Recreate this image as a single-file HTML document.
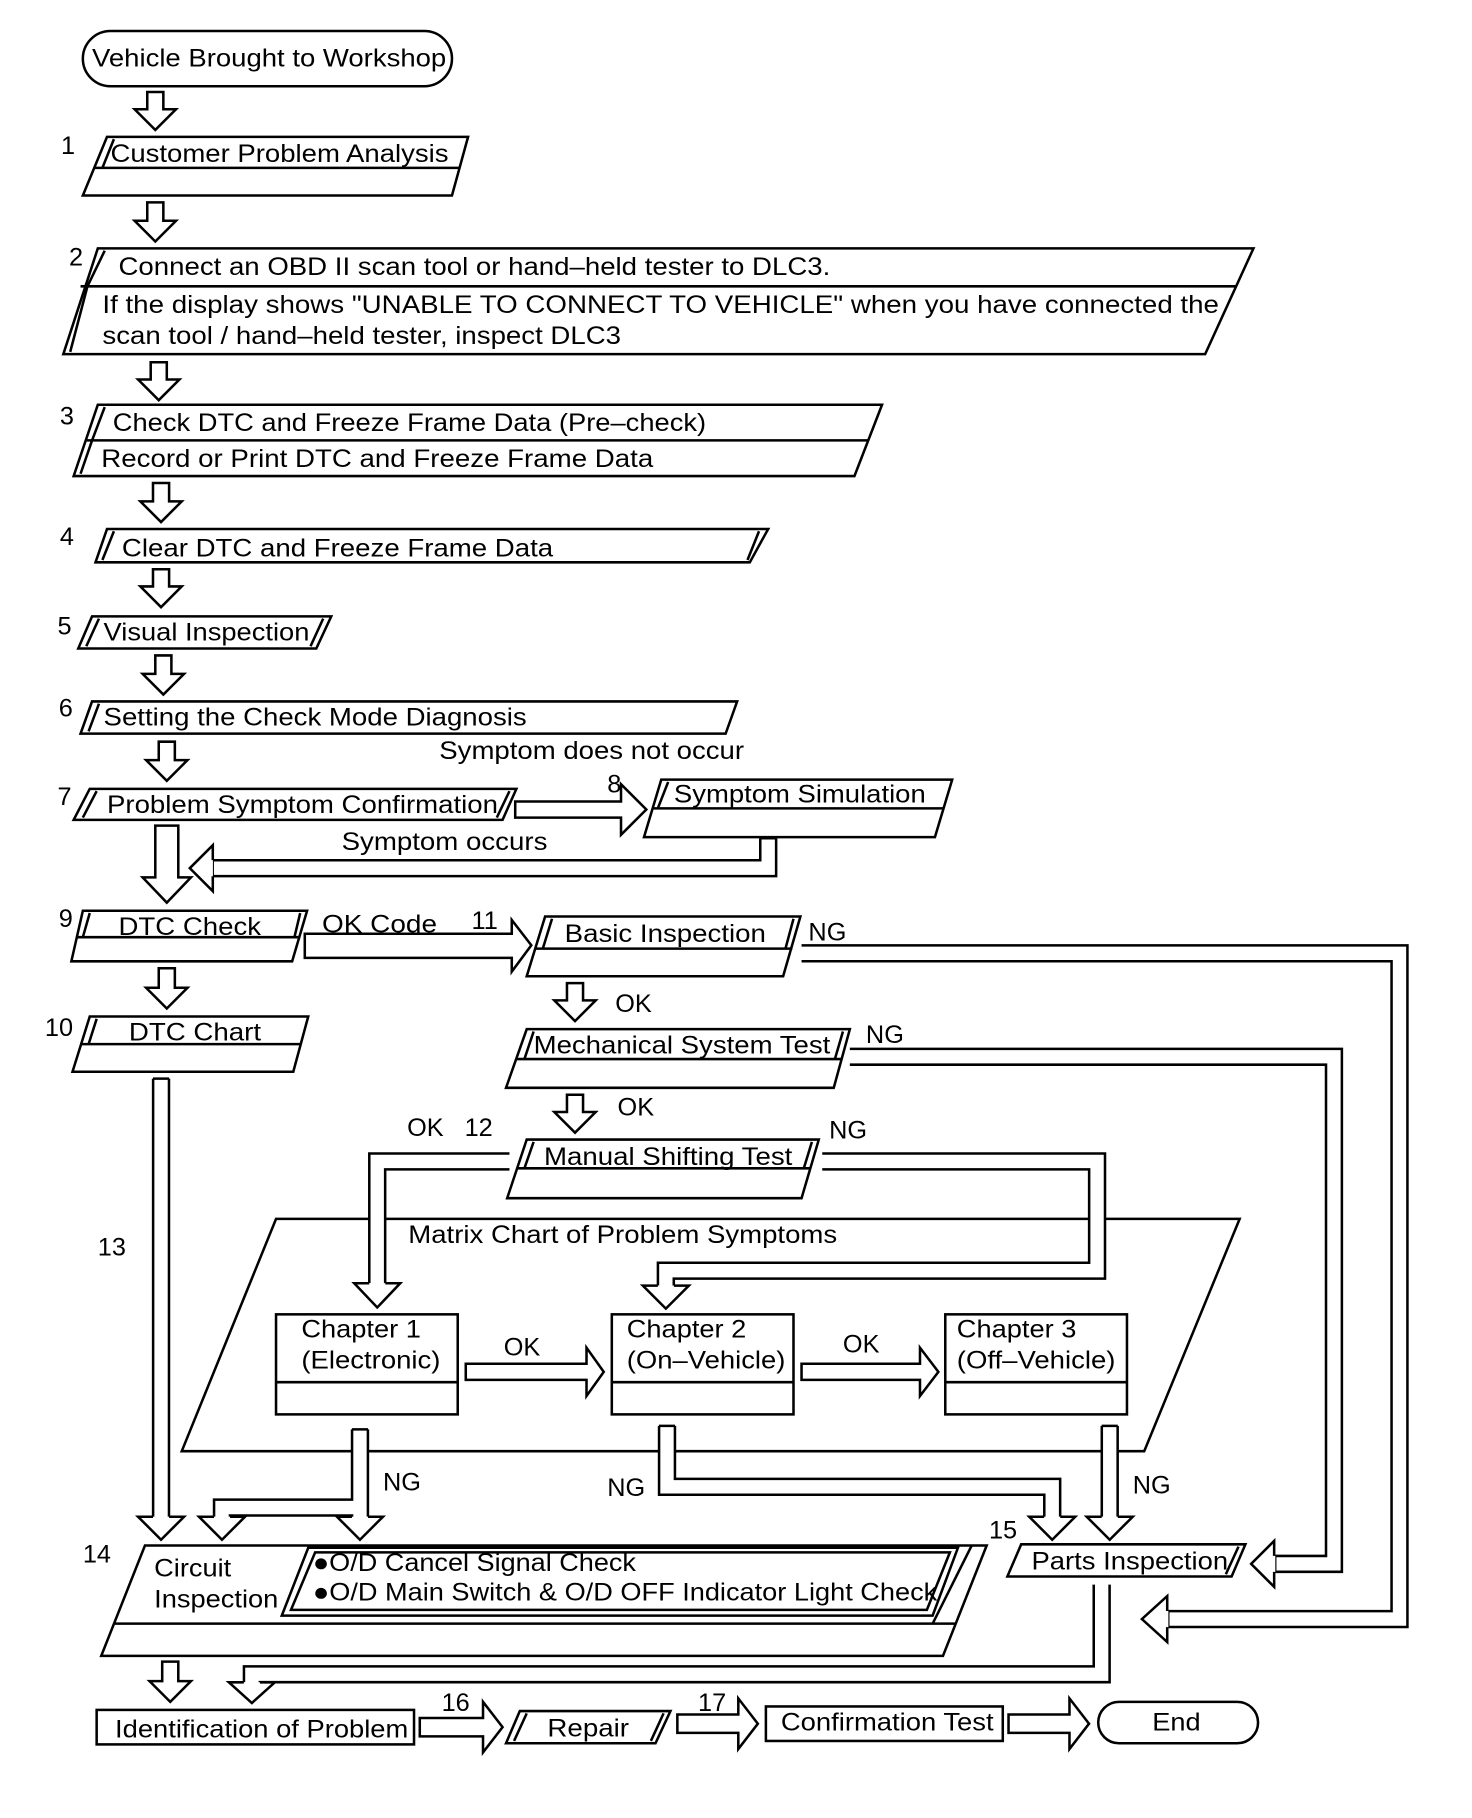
<!DOCTYPE html>
<html><head><meta charset="utf-8"><style>
html,body{margin:0;padding:0;background:#fff;}
svg{display:block;}
text{font-family:"Liberation Sans",Arial,sans-serif;font-size:22px;fill:#000;}
.b{fill:#fff;stroke:#000;stroke-width:2.2;}
.l{fill:none;stroke:#000;stroke-width:2.2;}
.po{fill:none;stroke:#000;stroke-width:16;stroke-linejoin:miter;}
.pi{fill:none;stroke:#fff;stroke-width:11.6;stroke-linejoin:miter;}
.hf{fill:#fff;stroke:none;}
</style></head><body>
<svg width="1472" height="1818" viewBox="0 0 1280 1581" xmlns="http://www.w3.org/2000/svg">
<rect x="0" y="0" width="1280" height="1581" fill="#fff"/>

<rect class="b" x="72" y="27" width="321" height="48" rx="24"/>
<text x="80" y="58" textLength="308" lengthAdjust="spacingAndGlyphs">Vehicle Brought to Workshop</text>

<g class="b">
<polygon points="128,80 142,80 142,95 153,95 135,113 117,95 128,95"/>
<polygon points="128,176 142,176 142,192 153,192 135,210 117,192 128,192"/>
<polygon points="131,315 145,315 145,330 156,330 138,348 120,330 131,330"/>
<polygon points="133,420 147,420 147,436 158,436 140,454 122,436 133,436"/>
<polygon points="133,495 147,495 147,510 158,510 140,528 122,510 133,510"/>
<polygon points="135,570 149,570 149,586 160,586 142,604 124,586 135,586"/>
<polygon points="138,645 152,645 152,661 163,661 145,679 127,661 138,661"/>
<polygon points="135,718 155,718 155,763 166,763 145,785 124,763 135,763"/>
<polygon points="138,842 152,842 152,859 163,859 145,877 127,859 138,859"/>
<polygon points="493,855 507,855 507,870 518,870 500,888 482,870 493,870"/>
<polygon points="493,952 507,952 507,967 518,967 500,985 482,967 493,967"/>
<polygon points="141,1445 155,1445 155,1462 166,1462 148,1480 130,1462 141,1462"/>
<polygon points="448,697 540,697 540,682 562,704 540,726 540,711 448,711"/>
<polygon points="265,812 445,812 445,800 462,822 445,845 445,833 265,833"/>
<polygon points="365,1494 420,1494 420,1480 437,1502 420,1524 420,1510 365,1510"/>
<polygon points="589,1491 642,1491 642,1477 659,1499 642,1521 642,1507 589,1507"/>
<polygon points="877,1491 930,1491 930,1477 947,1499 930,1521 930,1507 877,1507"/>
</g>

<text x="53" y="134">1</text>
<polygon class="b" points="93,119 407,119 393,170 72,170"/>
<line class="l" x1="82" y1="146" x2="400" y2="146"/>
<line class="l" x1="99" y1="121" x2="89" y2="146"/>
<text x="96" y="141" textLength="294" lengthAdjust="spacingAndGlyphs">Customer Problem Analysis</text>

<text x="60" y="231">2</text>
<polygon class="b" points="85,216 1090,216 1048,308 55,308"/>
<line class="l" x1="70" y1="249" x2="1075" y2="249"/>
<line class="l" x1="91" y1="218" x2="76" y2="249"/>
<line class="l" x1="76" y1="249" x2="61" y2="306"/>
<text x="103" y="239" textLength="619" lengthAdjust="spacingAndGlyphs">Connect an OBD II scan tool or hand–held tester to DLC3.</text>
<text x="89" y="272" textLength="971" lengthAdjust="spacingAndGlyphs">If the display shows "UNABLE TO CONNECT TO VEHICLE" when you have connected the</text>
<text x="89" y="299" textLength="451" lengthAdjust="spacingAndGlyphs">scan tool / hand–held tester, inspect DLC3</text>

<text x="52" y="369">3</text>
<polygon class="b" points="85,352 767,352 743,414 64,414"/>
<line class="l" x1="74" y1="383" x2="755" y2="383"/>
<line class="l" x1="91" y1="354" x2="80" y2="383"/>
<line class="l" x1="80" y1="383" x2="70" y2="412"/>
<text x="98" y="375" textLength="516" lengthAdjust="spacingAndGlyphs">Check DTC and Freeze Frame Data (Pre–check)</text>
<text x="88" y="406" textLength="480" lengthAdjust="spacingAndGlyphs">Record or Print DTC and Freeze Frame Data</text>

<text x="52" y="474">4</text>
<polygon class="b" points="93,460 668,460 652,489 83,489"/>
<line class="l" x1="99" y1="462" x2="89" y2="487"/>
<line class="l" x1="660" y1="462" x2="650" y2="487"/>
<text x="106" y="484" textLength="375" lengthAdjust="spacingAndGlyphs">Clear DTC and Freeze Frame Data</text>

<text x="50" y="552">5</text>
<polygon class="b" points="80,536 288,536 275,564 68,564"/>
<line class="l" x1="86" y1="538" x2="75" y2="562"/>
<line class="l" x1="281" y1="538" x2="270" y2="562"/>
<text x="90" y="557" textLength="179" lengthAdjust="spacingAndGlyphs">Visual Inspection</text>

<text x="51" y="623">6</text>
<polygon class="b" points="80,610 641,610 631,638 70,638"/>
<line class="l" x1="86" y1="612" x2="77" y2="636"/>
<text x="90" y="631" textLength="368" lengthAdjust="spacingAndGlyphs">Setting the Check Mode Diagnosis</text>
<text x="382" y="660" textLength="265" lengthAdjust="spacingAndGlyphs">Symptom does not occur</text>

<text x="50" y="700">7</text>
<polygon class="b" points="78,686 449,686 437,713 64,713"/>
<line class="l" x1="84" y1="688" x2="72" y2="711"/>
<line class="l" x1="443" y1="688" x2="432" y2="711"/>
<text x="93" y="707" textLength="340" lengthAdjust="spacingAndGlyphs">Problem Symptom Confirmation</text>

<text x="528" y="689">8</text>
<polygon class="b" points="575,678 828,678 813,728 560,728"/>
<line class="l" x1="568" y1="703" x2="820" y2="703"/>
<line class="l" x1="581" y1="680" x2="572" y2="703"/>
<text x="586" y="698" textLength="219" lengthAdjust="spacingAndGlyphs">Symptom Simulation</text>
<text x="297" y="739" textLength="179" lengthAdjust="spacingAndGlyphs">Symptom occurs</text>

<text x="51" y="806">9</text>
<polygon class="b" points="72,792 267,792 254,836 62,836"/>
<line class="l" x1="67" y1="815" x2="261" y2="815"/>
<line class="l" x1="78" y1="794" x2="72" y2="815"/>
<line class="l" x1="261" y1="794" x2="256" y2="815"/>
<text x="103" y="813" textLength="124" lengthAdjust="spacingAndGlyphs">DTC Check</text>
<text x="280" y="811" textLength="100" lengthAdjust="spacingAndGlyphs">OK Code</text>
<text x="410" y="808">11</text>

<text x="39" y="901">10</text>
<polygon class="b" points="78,884 268,884 255,932 63,932"/>
<line class="l" x1="71" y1="908" x2="262" y2="908"/>
<line class="l" x1="84" y1="886" x2="77" y2="908"/>
<text x="112" y="905" textLength="115" lengthAdjust="spacingAndGlyphs">DTC Chart</text>

<polygon class="b" points="474,797 696,797 681,849 458,849"/>
<line class="l" x1="466" y1="825" x2="689" y2="825"/>
<line class="l" x1="480" y1="799" x2="472" y2="825"/>
<line class="l" x1="690" y1="799" x2="683" y2="825"/>
<text x="491" y="819" textLength="175" lengthAdjust="spacingAndGlyphs">Basic Inspection</text>
<text x="703" y="818">NG</text>
<text x="535" y="880">OK</text>

<polygon class="b" points="458,895 739,895 725,946 440,946"/>
<line class="l" x1="449" y1="921" x2="732" y2="921"/>
<line class="l" x1="464" y1="897" x2="456" y2="921"/>
<line class="l" x1="733" y1="897" x2="726" y2="921"/>
<text x="464" y="916" textLength="258" lengthAdjust="spacingAndGlyphs">Mechanical System Test</text>
<text x="753" y="907">NG</text>
<text x="537" y="970">OK</text>

<text x="354" y="988">OK</text>
<text x="404" y="988">12</text>
<text x="721" y="990">NG</text>
<polygon class="b" points="458,991 712,991 697,1042 441,1042"/>
<line class="l" x1="450" y1="1016" x2="705" y2="1016"/>
<line class="l" x1="464" y1="993" x2="456" y2="1016"/>
<line class="l" x1="706" y1="993" x2="699" y2="1016"/>
<text x="473" y="1013" textLength="216" lengthAdjust="spacingAndGlyphs">Manual Shifting Test</text>

<polygon class="b" points="240,1060 1078,1060 995,1262 158,1262"/>
<text x="355" y="1081" textLength="373" lengthAdjust="spacingAndGlyphs">Matrix Chart of Problem Symptoms</text>
<text x="85" y="1092">13</text>

<g class="b">
<polygon points="405,1186 510,1186 510,1172 525,1193 510,1214 510,1200 405,1200"/>
<polygon points="697,1186 800,1186 800,1172 816,1193 800,1214 800,1200 697,1200"/>
</g>

<g class="po">
<polyline points="668,729 668,755 185,755"/>
<polyline points="697,829 1217,829 1217,1408 1016,1408"/>
<polyline points="739,919 1160,919 1160,1360 1109,1360"/>
<polyline points="443,1010 328,1010 328,1116"/>
<polyline points="715,1010 954,1010 954,1105 579,1105 579,1118"/>
<polyline points="140,938 140,1319"/>
<polyline points="313,1243 313,1319"/>
<polyline points="313,1311 193,1311 193,1319"/>
<polyline points="580,1240 580,1293 915,1293 915,1319"/>
<polyline points="965,1240 965,1319"/>
<polyline points="958,1378 958,1456 219,1456 219,1463"/>
</g>
<g class="pi">
<polyline points="668,728 668,755 186,755"/>
<polyline points="696,829 1217,829 1217,1408 1017,1408"/>
<polyline points="738,919 1160,919 1160,1360 1110,1360"/>
<polyline points="444,1010 328,1010 328,1117"/>
<polyline points="714,1010 954,1010 954,1105 579,1105 579,1119"/>
<polyline points="140,937 140,1320"/>
<polyline points="313,1242 313,1320"/>
<polyline points="313,1311 193,1311 193,1320"/>
<polyline points="580,1239 580,1293 915,1293 915,1320"/>
<polyline points="965,1239 965,1320"/>
<polyline points="958,1377 958,1456 219,1456 219,1464"/>
</g>
<g class="l">
<line x1="661" y1="729" x2="675" y2="729"/>
<line x1="133" y1="938" x2="147" y2="938"/>
<line x1="306" y1="1243" x2="320" y2="1243"/>
<line x1="573" y1="1240" x2="587" y2="1240"/>
<line x1="958" y1="1240" x2="972" y2="1240"/>
</g>
<g>
<polygon class="hf" points="185,735 165,755 185,775"/>
<polyline class="l" points="185,748 185,735 165,755 185,775 185,762"/>
<polygon class="hf" points="1015,1388 993,1408 1015,1428"/>
<polyline class="l" points="1015,1401 1015,1388 993,1408 1015,1428 1015,1415"/>
<polygon class="hf" points="1108,1340 1088,1360 1108,1380"/>
<polyline class="l" points="1108,1353 1108,1340 1088,1360 1108,1380 1108,1367"/>
<polygon class="hf" points="308,1116 328,1137 348,1116"/>
<polyline class="l" points="321,1116 308,1116 328,1137 348,1116 335,1116"/>
<polygon class="hf" points="559,1118 579,1138 599,1118"/>
<polyline class="l" points="572,1118 559,1118 579,1138 599,1118 586,1118"/>
<polygon class="hf" points="120,1319 140,1339 160,1319"/>
<polyline class="l" points="133,1319 120,1319 140,1339 160,1319 147,1319"/>
<polygon class="hf" points="293,1319 313,1339 333,1319"/>
<polyline class="l" points="306,1319 293,1319 313,1339 333,1319 320,1319"/>
<polygon class="hf" points="173,1319 193,1339 213,1319"/>
<polyline class="l" points="186,1319 173,1319 193,1339 213,1319 200,1319"/>
<polygon class="hf" points="895,1319 915,1339 935,1319"/>
<polyline class="l" points="908,1319 895,1319 915,1339 935,1319 922,1319"/>
<polygon class="hf" points="945,1319 965,1339 985,1319"/>
<polyline class="l" points="958,1319 945,1319 965,1339 985,1319 972,1319"/>
<polygon class="hf" points="199,1463 219,1481 239,1463"/>
<polyline class="l" points="212,1463 199,1463 219,1481 239,1463 226,1463"/>
</g>

<g class="b">
<rect x="240" y="1143" width="158" height="87"/>
<rect x="532" y="1143" width="158" height="87"/>
<rect x="822" y="1143" width="158" height="87"/>
</g>
<g class="l">
<line x1="240" y1="1202" x2="398" y2="1202"/>
<line x1="532" y1="1202" x2="690" y2="1202"/>
<line x1="822" y1="1202" x2="980" y2="1202"/>
</g>
<text x="262" y="1163" textLength="104" lengthAdjust="spacingAndGlyphs">Chapter 1</text>
<text x="262" y="1190" textLength="121" lengthAdjust="spacingAndGlyphs">(Electronic)</text>
<text x="545" y="1163" textLength="104" lengthAdjust="spacingAndGlyphs">Chapter 2</text>
<text x="545" y="1190" textLength="138" lengthAdjust="spacingAndGlyphs">(On–Vehicle)</text>
<text x="832" y="1163" textLength="104" lengthAdjust="spacingAndGlyphs">Chapter 3</text>
<text x="832" y="1190" textLength="138" lengthAdjust="spacingAndGlyphs">(Off–Vehicle)</text>
<text x="438" y="1179">OK</text>
<text x="733" y="1176">OK</text>
<text x="333" y="1296">NG</text>
<text x="528" y="1301">NG</text>
<text x="985" y="1299">NG</text>

<text x="72" y="1359">14</text>
<polygon class="b" points="126,1344 858,1344 820,1440 88,1440"/>
<line class="l" x1="100" y1="1412" x2="831" y2="1412"/>
<line class="l" x1="845" y1="1344" x2="811" y2="1412"/>
<polygon class="b" points="268,1346 833,1346 811,1405 245,1405"/>
<polygon class="l" points="274,1350 826,1350 806,1400 253,1400"/>
<text x="134" y="1371" textLength="67" lengthAdjust="spacingAndGlyphs">Circuit</text>
<text x="134" y="1398" textLength="108" lengthAdjust="spacingAndGlyphs">Inspection</text>
<text x="272" y="1366" textLength="281" lengthAdjust="spacingAndGlyphs">●O/D Cancel Signal Check</text>
<text x="272" y="1392" textLength="543" lengthAdjust="spacingAndGlyphs">●O/D Main Switch &amp; O/D OFF Indicator Light Check</text>

<text x="860" y="1338">15</text>
<polygon class="b" points="888,1343 1083,1343 1071,1371 876,1371"/>
<line class="l" x1="1077" y1="1345" x2="1066" y2="1369"/>
<text x="897" y="1365" textLength="171" lengthAdjust="spacingAndGlyphs">Parts Inspection</text>

<rect class="b" x="84" y="1487" width="276" height="30"/>
<text x="100" y="1511" textLength="255" lengthAdjust="spacingAndGlyphs">Identification of Problem</text>
<text x="384" y="1488">16</text>
<polygon class="b" points="452,1488 583,1488 570,1516 440,1516"/>
<line class="l" x1="458" y1="1490" x2="447" y2="1514"/>
<line class="l" x1="577" y1="1490" x2="566" y2="1514"/>
<text x="476" y="1510" textLength="71" lengthAdjust="spacingAndGlyphs">Repair</text>
<text x="607" y="1488">17</text>
<rect class="b" x="666" y="1484" width="206" height="30"/>
<text x="679" y="1505" textLength="185" lengthAdjust="spacingAndGlyphs">Confirmation Test</text>
<rect class="b" x="955" y="1480" width="139" height="36" rx="18"/>
<text x="1002" y="1505" textLength="42" lengthAdjust="spacingAndGlyphs">End</text>
</svg>
</body></html>
